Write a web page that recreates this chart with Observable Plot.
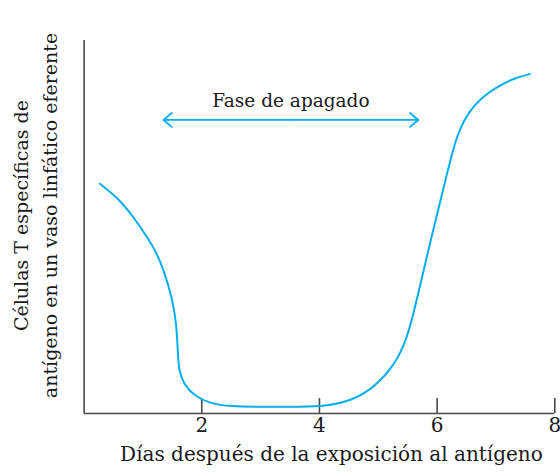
<!DOCTYPE html>
<html><head><meta charset="utf-8">
<script src="https://cdn.jsdelivr.net/npm/d3@7"></script>
<script src="https://cdn.jsdelivr.net/npm/@observablehq/plot@0.6"></script>
<style>body{margin:0;background:#fff}</style>
</head><body><div id="chart"></div>
<script>
// Data
const days  = [0.267, 0.563, 0.845, 1.072, 1.242, 1.355, 1.497, 1.570, 1.592, 1.609, 1.694, 1.864, 2.148, 2.488, 3.0, 3.5, 4.018, 4.471, 4.867, 5.207, 5.433, 5.576, 5.887, 6.181, 6.256, 6.341, 6.453, 6.623, 6.851, 7.133, 7.361, 7.575];
const cells = [61.6, 58.0, 52.6, 47.3, 42.8, 38.3, 31.1, 24.0, 16.9, 11.5, 7.9, 4.8, 2.6, 1.9, 1.8, 1.8, 1.8, 3.0, 6.2, 11.5, 17.8, 24.9, 46.4, 65.1, 69.8, 74.4, 78.6, 82.6, 85.9, 88.6, 90.1, 91.0];
const xTicks = [2, 4, 6, 8];
const xLabel = "Días después de la exposición al antígeno";
const yLabelLines = ["Células T específicas de", "antígeno en un vaso linfático eferente"];
const phaseLabel = "Fase de apagado";
const phaseStart = 1.35, phaseEnd = 5.68, phaseLevel = 78.7, phaseTextLevel = 82.2;

const data = days.map((d, i) => ({day: d, cells: cells[i]}));
const mid = (phaseStart + phaseEnd) / 2;
const blue = "#00AEEF";
const ink = "#1a1a1a";
const axisColor = "#4a4a4a";
const font = "DejaVu Serif, serif";

const chart = Plot.plot({
  width: 560,
  height: 473,
  marginLeft: 83.6,
  marginRight: 5.7,
  marginTop: 40,
  marginBottom: 60,
  style: {fontFamily: font, background: "#fff", color: ink},
  x: {domain: [0, 8], axis: null},
  y: {domain: [0, 100], axis: null},
  marks: [
    Plot.ruleX([0], {y1: 0, y2: 100, stroke: axisColor, strokeWidth: 1.6}),
    Plot.ruleY([0], {x1: 0, x2: 8, stroke: axisColor, strokeWidth: 1.6}),
    Plot.ruleX(xTicks, {y1: 0, y2: 4, stroke: axisColor, strokeWidth: 1.6}),
    Plot.text(xTicks, {x: d => d, frameAnchor: "bottom", dy: 18, text: d => String(d), fontSize: 20, fill: ink}),
    Plot.text([xLabel], {frameAnchor: "bottom", dx: 12, dy: 47, textAnchor: "middle", text: d => d, fontSize: 20, fill: ink}),
    Plot.text([yLabelLines.join("\n")], {frameAnchor: "left", textAnchor: "middle", dx: -51, dy: -11.5, rotate: -90, text: d => d, fontSize: 19, lineHeight: 1.53, fill: ink}),
    Plot.line(data, {x: "day", y: "cells", stroke: blue, strokeWidth: 2, curve: "basis"}),
    Plot.arrow([{x1: mid, x2: phaseStart}, {x1: mid, x2: phaseEnd}], {x1: "x1", x2: "x2", y1: phaseLevel, y2: phaseLevel, stroke: blue, strokeWidth: 1.8, headLength: 9, headAngle: 80}),
    Plot.text([phaseLabel], {x: mid, y: phaseTextLevel, text: d => d, lineAnchor: "bottom", fontSize: 18.5, fill: ink})
  ]
});
document.getElementById("chart").appendChild(chart);
</script>
</body></html>
